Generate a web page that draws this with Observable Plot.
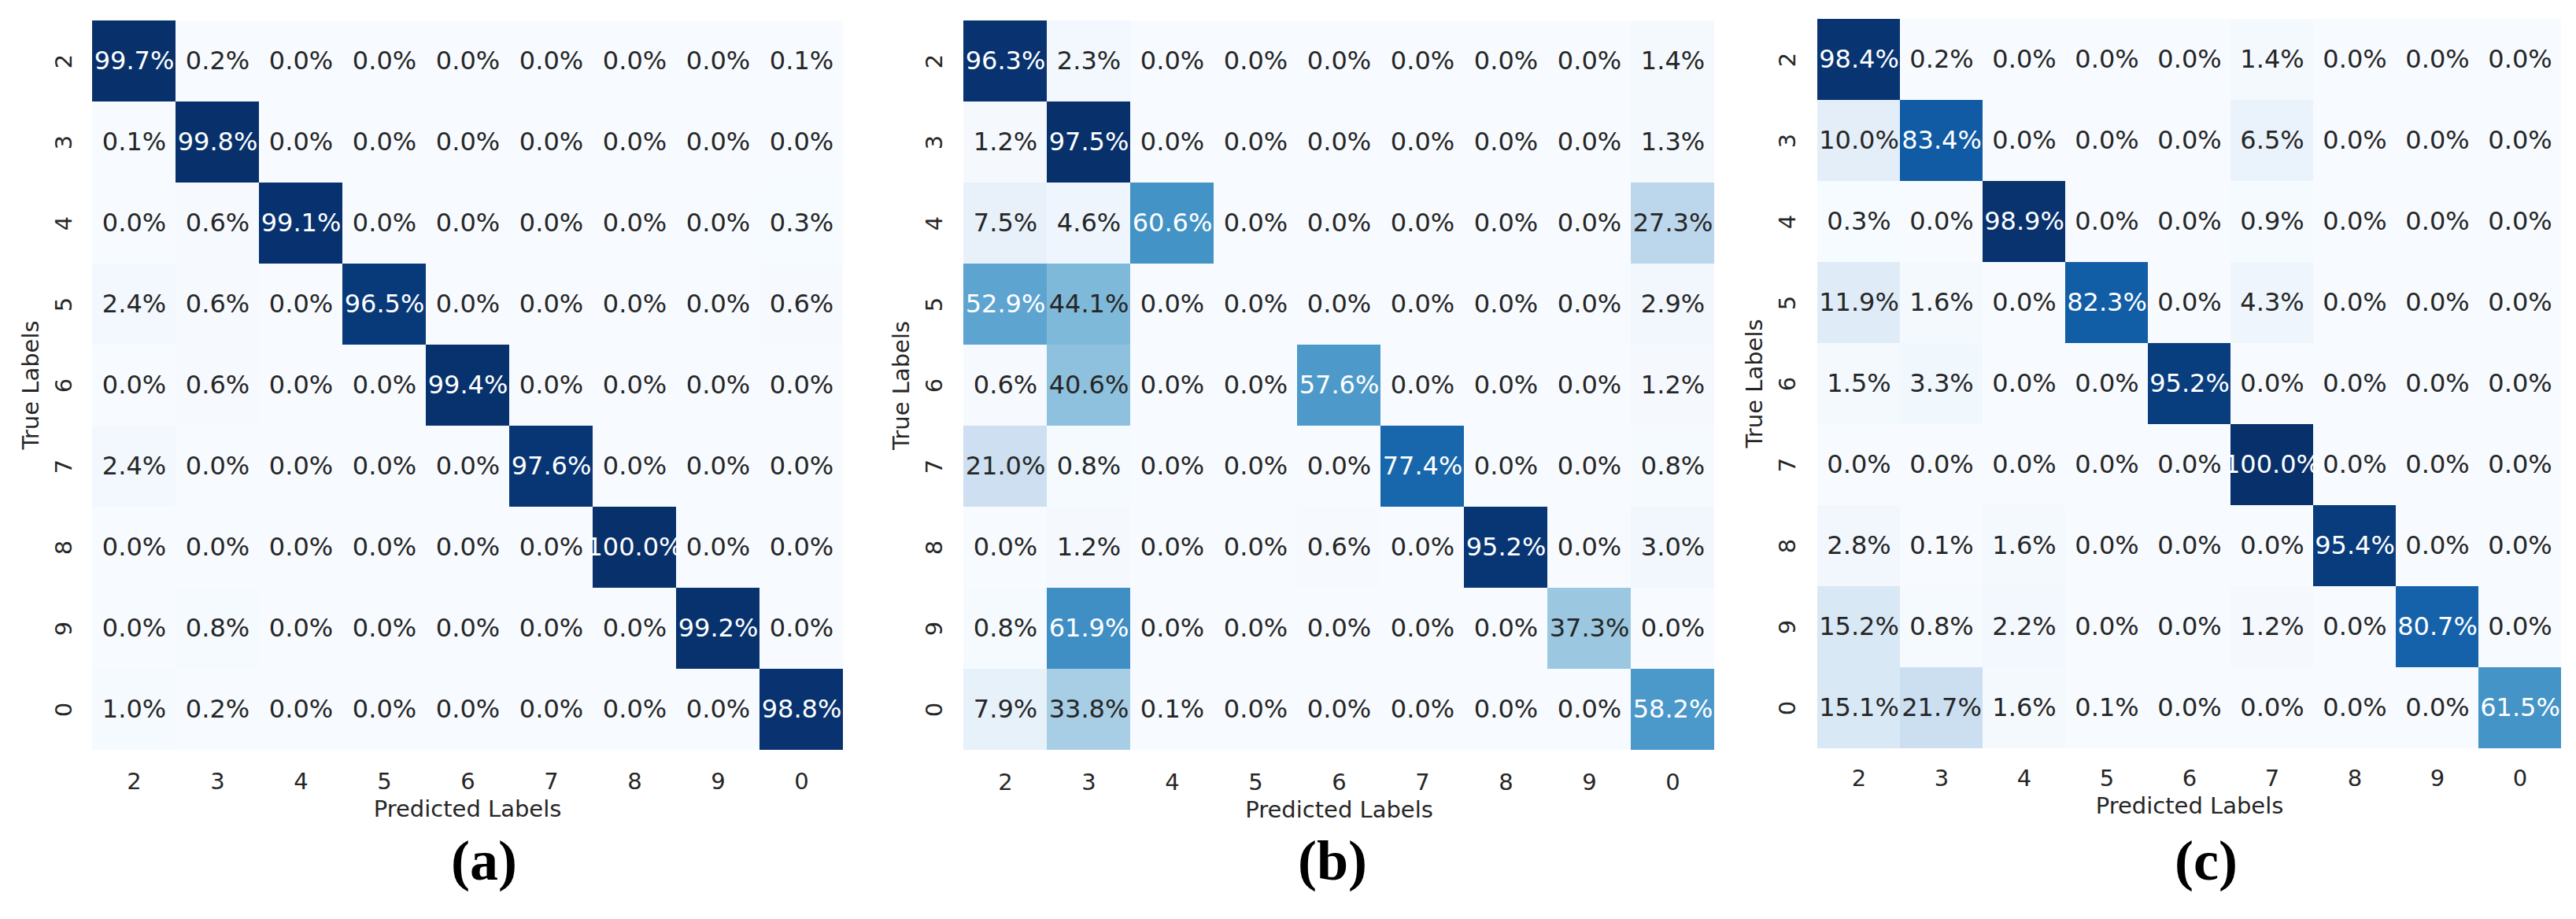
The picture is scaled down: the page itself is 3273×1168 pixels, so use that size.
<!DOCTYPE html>
<html>
<head>
<meta charset="utf-8">
<script src="https://cdn.jsdelivr.net/npm/d3@7"></script>
<script src="https://cdn.jsdelivr.net/npm/@observablehq/plot@0.6"></script>
<style>
  html, body { margin: 0; padding: 0; background: #fff; }
  #fig { position: relative; width: 3273px; height: 1168px; background: #fff; overflow: hidden; }
  .panel { position: absolute; top: 0; }
  .cap { position: absolute; transform: translateX(-50%); font-family: "Liberation Serif", "Times New Roman", serif; font-weight: bold; font-size: 72px; line-height: 72px; color: #000; white-space: nowrap; }
</style>
</head>
<body>
<div id="fig"></div>
<script>
// ---- data ----
const predLabels = ["2","3","4","5","6","7","8","9","0"];
const trueLabels = ["2","3","4","5","6","7","8","9","0"];

const matrixA = [
  [99.7, 0.2, 0.0, 0.0, 0.0, 0.0, 0.0, 0.0, 0.1],
  [0.1, 99.8, 0.0, 0.0, 0.0, 0.0, 0.0, 0.0, 0.0],
  [0.0, 0.6, 99.1, 0.0, 0.0, 0.0, 0.0, 0.0, 0.3],
  [2.4, 0.6, 0.0, 96.5, 0.0, 0.0, 0.0, 0.0, 0.6],
  [0.0, 0.6, 0.0, 0.0, 99.4, 0.0, 0.0, 0.0, 0.0],
  [2.4, 0.0, 0.0, 0.0, 0.0, 97.6, 0.0, 0.0, 0.0],
  [0.0, 0.0, 0.0, 0.0, 0.0, 0.0, 100.0, 0.0, 0.0],
  [0.0, 0.8, 0.0, 0.0, 0.0, 0.0, 0.0, 99.2, 0.0],
  [1.0, 0.2, 0.0, 0.0, 0.0, 0.0, 0.0, 0.0, 98.8]
];
const matrixB = [
  [96.3, 2.3, 0.0, 0.0, 0.0, 0.0, 0.0, 0.0, 1.4],
  [1.2, 97.5, 0.0, 0.0, 0.0, 0.0, 0.0, 0.0, 1.3],
  [7.5, 4.6, 60.6, 0.0, 0.0, 0.0, 0.0, 0.0, 27.3],
  [52.9, 44.1, 0.0, 0.0, 0.0, 0.0, 0.0, 0.0, 2.9],
  [0.6, 40.6, 0.0, 0.0, 57.6, 0.0, 0.0, 0.0, 1.2],
  [21.0, 0.8, 0.0, 0.0, 0.0, 77.4, 0.0, 0.0, 0.8],
  [0.0, 1.2, 0.0, 0.0, 0.6, 0.0, 95.2, 0.0, 3.0],
  [0.8, 61.9, 0.0, 0.0, 0.0, 0.0, 0.0, 37.3, 0.0],
  [7.9, 33.8, 0.1, 0.0, 0.0, 0.0, 0.0, 0.0, 58.2]
];
const matrixC = [
  [98.4, 0.2, 0.0, 0.0, 0.0, 1.4, 0.0, 0.0, 0.0],
  [10.0, 83.4, 0.0, 0.0, 0.0, 6.5, 0.0, 0.0, 0.0],
  [0.3, 0.0, 98.9, 0.0, 0.0, 0.9, 0.0, 0.0, 0.0],
  [11.9, 1.6, 0.0, 82.3, 0.0, 4.3, 0.0, 0.0, 0.0],
  [1.5, 3.3, 0.0, 0.0, 95.2, 0.0, 0.0, 0.0, 0.0],
  [0.0, 0.0, 0.0, 0.0, 0.0, 100.0, 0.0, 0.0, 0.0],
  [2.8, 0.1, 1.6, 0.0, 0.0, 0.0, 95.4, 0.0, 0.0],
  [15.2, 0.8, 2.2, 0.0, 0.0, 1.2, 0.0, 80.7, 0.0],
  [15.1, 21.7, 1.6, 0.1, 0.0, 0.0, 0.0, 0.0, 61.5]
];
const captions = ["(a)", "(b)", "(c)"];

// ---- style ----
const blues9 = ["#f7fbff","#deebf7","#c6dbef","#9ecae1","#6baed6","#4292c6","#2171b5","#08519c","#08306b"];
const panels = [
  {m: matrixA, left: 0,    width: 1100, ml: 115, mr: 28, mb: 104, capX: 615},
  {m: matrixB, left: 1100, width: 1100, ml: 121, mr: 19, mb: 103, capX: 1693},
  {m: matrixC, left: 2180, width: 1093, ml: 125, mr: 15, mb: 108, capX: 2803}
];
const svgH = 1060;

function lum(c) {
  const rgb = d3.rgb(c);
  const f = v => { v /= 255; return v <= 0.03928 ? v / 12.92 : Math.pow((v + 0.055) / 1.055, 2.4); };
  return 0.2126 * f(rgb.r) + 0.7152 * f(rgb.g) + 0.0722 * f(rgb.b);
}

const fig = document.getElementById("fig");
panels.forEach((p, k) => {
  const data = [];
  trueLabels.forEach((t, i) => predLabels.forEach((q, j) => data.push({t, q, v: p.m[i][j]})));
  const lo = d3.min(data, d => d.v), hi = d3.max(data, d => d.v);
  const dom = d3.range(9).map(i => lo + (hi - lo) * i / 8);
  const cs = d3.scaleLinear().domain(dom).range(blues9).interpolate(d3.interpolateRgb).clamp(true);
  const chart = Plot.plot({
    width: p.width,
    height: svgH,
    marginLeft: p.ml,
    marginRight: p.mr,
    marginTop: 22,
    marginBottom: p.mb,
    style: {fontFamily: "DejaVu Sans", fontSize: "29px", color: "#262626", background: "#fff"},
    x: {domain: predLabels, padding: 0},
    y: {domain: trueLabels, padding: 0},
    color: {type: "linear", domain: dom, range: blues9, interpolate: "rgb"},
    marks: [
      Plot.cell(data, {x: "q", y: "t", fill: "v", inset: 0}),
      Plot.text(data, {x: "q", y: "t", text: d => d.v.toFixed(1) + "%", fontSize: 32,
        fill: d => lum(cs(d.v)) > 0.408 ? "#262626" : "#ffffff"}),
      Plot.axisX({tickSize: 0, tickPadding: 26, fontSize: 29, label: "Predicted Labels", labelAnchor: "center", labelArrow: "none", labelOffset: 81}),
      Plot.axisY({tickSize: 0, tickPadding: 25, tickRotate: -90, textAnchor: "middle", lineAnchor: "bottom", fontSize: 29, label: "True Labels", labelAnchor: "center", labelArrow: "none", labelOffset: 87})
    ]
  });
  const wrap = document.createElement("div");
  wrap.className = "panel";
  wrap.style.left = p.left + "px";
  wrap.appendChild(chart);
  fig.appendChild(wrap);
  const cap = document.createElement("div");
  cap.className = "cap";
  cap.textContent = captions[k];
  cap.style.left = p.capX + "px";
  cap.style.top = "1058px";
  fig.appendChild(cap);
});
</script>
</body>
</html>
